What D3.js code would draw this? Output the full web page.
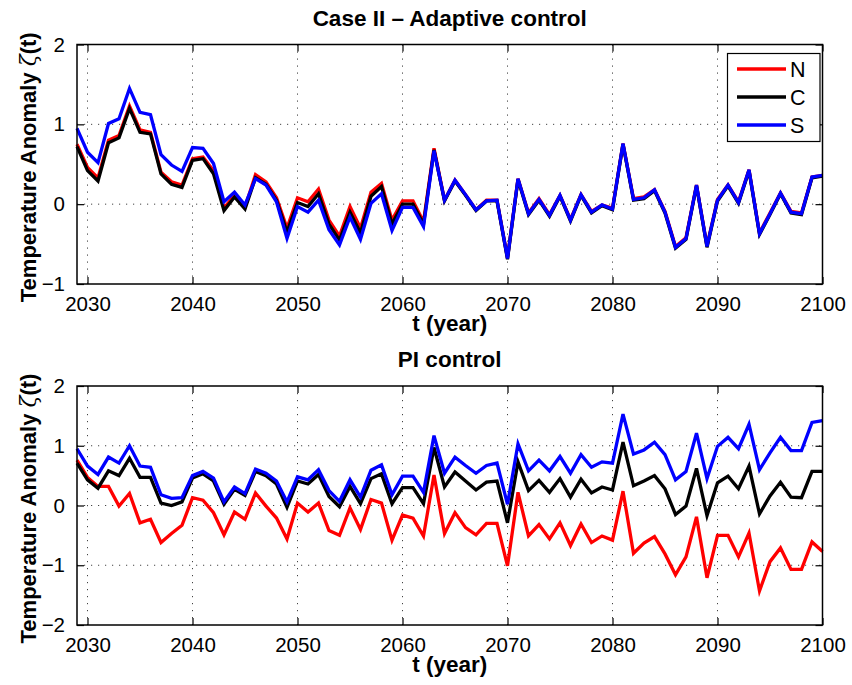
<!DOCTYPE html>
<html>
<head>
<meta charset="utf-8">
<script src="https://cdn.jsdelivr.net/npm/d3@7"></script>
<style>
  html, body { margin: 0; padding: 0; background: #fff; }
  svg text { font-family: "Liberation Sans", Arial, Helvetica, sans-serif; }
</style>
</head>
<body>
<svg id="chart" width="852" height="685"></svg>
<script>
// Annual temperature anomaly for the three regions (N, C, S), 2029–2100
const years = [2029, 2030, 2031, 2032, 2033, 2034, 2035, 2036, 2037, 2038, 2039,
  2040, 2041, 2042, 2043, 2044, 2045, 2046, 2047, 2048, 2049,
  2050, 2051, 2052, 2053, 2054, 2055, 2056, 2057, 2058, 2059,
  2060, 2061, 2062, 2063, 2064, 2065, 2066, 2067, 2068, 2069,
  2070, 2071, 2072, 2073, 2074, 2075, 2076, 2077, 2078, 2079,
  2080, 2081, 2082, 2083, 2084, 2085, 2086, 2087, 2088, 2089,
  2090, 2091, 2092, 2093, 2094, 2095, 2096, 2097, 2098, 2099, 2100];

// Case II – adaptive control
const adaptiveN = [0.75, 0.46, 0.33, 0.80, 0.86, 1.23, 0.93, 0.90, 0.40, 0.28, 0.24,
  0.57, 0.59, 0.42, -0.05, 0.11, -0.04, 0.37, 0.28, 0.08, -0.30,
  0.08, 0.03, 0.19, -0.20, -0.40, -0.03, -0.30, 0.15, 0.26, -0.20,
  0.04, 0.04, -0.22, 0.70, 0.05, 0.30, 0.12, -0.07, 0.05, 0.05,
  -0.67, 0.32, -0.11, 0.07, -0.13, 0.11, -0.19, 0.12, -0.09, -0.01,
  -0.05, 0.76, 0.07, 0.09, 0.18, -0.09, -0.53, -0.42, 0.24, -0.52,
  0.06, 0.24, 0.03, 0.43, -0.36, -0.11, 0.14, -0.09, -0.11, 0.34, 0.36];
const adaptiveC = [0.72, 0.42, 0.29, 0.77, 0.83, 1.20, 0.90, 0.88, 0.38, 0.25, 0.21,
  0.55, 0.57, 0.38, -0.08, 0.09, -0.06, 0.33, 0.25, 0.05, -0.35,
  0.02, -0.03, 0.13, -0.25, -0.45, -0.10, -0.36, 0.10, 0.22, -0.25,
  0.00, 0.00, -0.25, 0.68, 0.04, 0.29, 0.11, -0.08, 0.04, 0.04,
  -0.69, 0.31, -0.13, 0.05, -0.15, 0.10, -0.21, 0.11, -0.11, -0.02,
  -0.07, 0.75, 0.05, 0.07, 0.17, -0.11, -0.55, -0.44, 0.23, -0.54,
  0.04, 0.23, 0.01, 0.42, -0.38, -0.13, 0.13, -0.11, -0.13, 0.33, 0.35];
const adaptiveS = [0.95, 0.65, 0.52, 1.01, 1.07, 1.45, 1.15, 1.12, 0.62, 0.49, 0.41,
  0.71, 0.70, 0.51, 0.03, 0.15, -0.01, 0.32, 0.24, 0.03, -0.43,
  -0.03, -0.10, 0.05, -0.32, -0.51, -0.16, -0.44, 0.01, 0.13, -0.33,
  -0.04, -0.04, -0.28, 0.67, 0.05, 0.30, 0.12, -0.07, 0.04, 0.05,
  -0.68, 0.32, -0.12, 0.06, -0.14, 0.11, -0.20, 0.12, -0.10, -0.01,
  -0.06, 0.76, 0.06, 0.08, 0.18, -0.10, -0.54, -0.43, 0.24, -0.53,
  0.05, 0.24, 0.02, 0.43, -0.37, -0.12, 0.14, -0.10, -0.12, 0.34, 0.36];

// PI control
const piN = [0.76, 0.47, 0.32, 0.32, -0.01, 0.20, -0.29, -0.23, -0.62, -0.47, -0.33,
  0.13, 0.09, -0.12, -0.49, -0.11, -0.23, 0.21, -0.01, -0.21, -0.56,
  0.04, -0.11, 0.04, -0.42, -0.50, -0.04, -0.40, 0.10, 0.04, -0.58,
  -0.16, -0.21, -0.51, 0.51, -0.47, -0.12, -0.37, -0.49, -0.30, -0.30,
  -1.01, 0.22, -0.51, -0.32, -0.56, -0.29, -0.67, -0.31, -0.62, -0.51,
  -0.58, 0.24, -0.80, -0.63, -0.52, -0.81, -1.16, -0.86, -0.19, -1.21,
  -0.50, -0.50, -0.86, -0.46, -1.43, -0.94, -0.71, -1.07, -1.07, -0.61, -0.77];
const piC = [0.71, 0.43, 0.29, 0.58, 0.50, 0.79, 0.47, 0.47, 0.04, 0.00, 0.06,
  0.46, 0.53, 0.41, 0.02, 0.27, 0.17, 0.57, 0.50, 0.36, -0.03,
  0.41, 0.36, 0.52, 0.15, -0.02, 0.32, 0.03, 0.45, 0.53, 0.03,
  0.30, 0.30, 0.03, 0.97, 0.31, 0.56, 0.41, 0.26, 0.39, 0.41,
  -0.29, 0.73, 0.25, 0.42, 0.22, 0.45, 0.14, 0.44, 0.21, 0.31,
  0.26, 1.06, 0.33, 0.41, 0.50, 0.28, -0.15, -0.01, 0.62, -0.17,
  0.38, 0.49, 0.28, 0.66, -0.14, 0.16, 0.39, 0.14, 0.13, 0.57, 0.57];
const piS = [0.95, 0.66, 0.52, 0.81, 0.71, 1.00, 0.66, 0.64, 0.18, 0.12, 0.13,
  0.50, 0.57, 0.46, 0.06, 0.31, 0.20, 0.61, 0.54, 0.41, 0.06,
  0.48, 0.43, 0.60, 0.25, 0.07, 0.43, 0.14, 0.59, 0.68, 0.18,
  0.49, 0.49, 0.22, 1.17, 0.54, 0.81, 0.67, 0.54, 0.67, 0.71,
  0.02, 1.03, 0.58, 0.76, 0.58, 0.82, 0.54, 0.85, 0.64, 0.73,
  0.71, 1.53, 0.86, 0.93, 1.06, 0.85, 0.43, 0.57, 1.21, 0.45,
  0.99, 1.14, 0.95, 1.36, 0.60, 0.88, 1.14, 0.92, 0.92, 1.39, 1.42];

const regionNames = ["N", "C", "S"];
const regionColors = ["#ff0000", "#000000", "#0000ff"];
const xTicks = [2030, 2040, 2050, 2060, 2070, 2080, 2090, 2100];
const adaptiveYTicks = [-1, 0, 1, 2];
const piYTicks = [-2, -1, 0, 1, 2];

const panels = [
  { title: "Case II \u2013 Adaptive control", top: 44.5, bottom: 284,
    yDomain: [-1, 2], yTicks: adaptiveYTicks,
    series: [adaptiveN, adaptiveC, adaptiveS], legend: true },
  { title: "PI control", top: 386, bottom: 625,
    yDomain: [-2, 2], yTicks: piYTicks,
    series: [piN, piC, piS], legend: false }
];

const svg = d3.select("#chart");
const left = 77, right = 822.5;
const tickLen = 7;

const x = d3.scaleLinear().domain([2029, 2100]).range([left, right]);

panels.forEach(p => {
  const y = d3.scaleLinear().domain(p.yDomain).range([p.bottom, p.top]);
  const g = svg.append("g");

  // dotted grid
  const grid = g.append("g").attr("stroke", "#444").attr("stroke-width", 1)
    .attr("stroke-dasharray", "1.2,5.8");
  grid.selectAll("line.vx").data(xTicks.filter(t => t > 2029 && t < 2100)).join("line")
    .attr("x1", d => x(d)).attr("x2", d => x(d))
    .attr("y1", p.top).attr("y2", p.bottom);
  grid.selectAll("line.hy").data(p.yTicks.filter(t => t > p.yDomain[0] && t < p.yDomain[1])).join("line")
    .attr("x1", left).attr("x2", right)
    .attr("y1", d => y(d)).attr("y2", d => y(d));

  // series lines
  const line = d3.line().x((d, i) => x(years[i])).y(d => y(d));
  p.series.forEach((vals, k) => {
    g.append("path").datum(vals)
      .attr("fill", "none")
      .attr("stroke", regionColors[k])
      .attr("stroke-width", 3.3)
      .attr("stroke-linejoin", "miter")
      .attr("stroke-miterlimit", 4)
      .attr("d", line);
  });

  // axes: ticks inside on all four sides
  const fmt = d => d < 0 ? "\u2212" + Math.abs(d) : String(d);
  const axB = g.append("g").attr("transform", `translate(0,${p.bottom})`)
    .call(d3.axisBottom(x).tickValues(xTicks).tickSizeInner(-tickLen).tickSizeOuter(0).tickPadding(12).tickFormat(d3.format("d")));
  const axT = g.append("g").attr("transform", `translate(0,${p.top})`)
    .call(d3.axisTop(x).tickValues(xTicks).tickSizeInner(-tickLen).tickSizeOuter(0).tickFormat(""));
  const axL = g.append("g").attr("transform", `translate(${left},0)`)
    .call(d3.axisLeft(y).tickValues(p.yTicks).tickSizeInner(-tickLen).tickSizeOuter(0).tickPadding(12).tickFormat(fmt));
  const axR = g.append("g").attr("transform", `translate(${right},0)`)
    .call(d3.axisRight(y).tickValues(p.yTicks).tickSizeInner(-tickLen).tickSizeOuter(0).tickFormat(""));
  [axB, axT, axL, axR].forEach(a => {
    a.select(".domain").remove();
    a.selectAll(".tick line").attr("stroke", "#000").attr("stroke-width", 1.2);
    a.selectAll("text").attr("fill", "#000").style("font-size", "20.5px");
  });

  // axes box
  g.append("rect").attr("x", left).attr("y", p.top)
    .attr("width", right - left).attr("height", p.bottom - p.top)
    .attr("fill", "none").attr("stroke", "#000").attr("stroke-width", 1.5);

  // title
  g.append("text").attr("x", (left + right) / 2).attr("y", p.top - 19)
    .attr("text-anchor", "middle").attr("font-weight", "bold").style("font-size", "22.5px")
    .text(p.title);

  // x label
  g.append("text").attr("x", (left + right) / 2).attr("y", p.bottom + 47)
    .attr("text-anchor", "middle").attr("font-weight", "bold").style("font-size", "22.5px")
    .text("t (year)");

  // y label
  const yl = g.append("text")
    .attr("transform", `translate(36,${(p.top + p.bottom) / 2 + 3}) rotate(-90)`)
    .attr("text-anchor", "middle").attr("font-weight", "bold").style("font-size", "22px");
  yl.append("tspan").text("Temperature Anomaly ");
  yl.append("tspan").attr("font-weight", "normal").attr("font-family", "DejaVu Serif, serif").attr("font-style", "italic").text("\u03B6");
  yl.append("tspan").text("(t)");

  // legend
  if (p.legend) {
    const lg = g.append("g");
    lg.append("rect").attr("x", 727.5).attr("y", 53.5).attr("width", 92.5).attr("height", 88)
      .attr("fill", "#fff").attr("stroke", "#000").attr("stroke-width", 1.2);
    regionNames.forEach((name, k) => {
      const yy = 69 + k * 28;
      lg.append("line").attr("x1", 737).attr("x2", 786).attr("y1", yy).attr("y2", yy)
        .attr("stroke", regionColors[k]).attr("stroke-width", 3.3);
      lg.append("text").attr("x", 790).attr("y", yy + 7.5).style("font-size", "21.5px").text(name);
    });
  }
});
</script>
</body>
</html>
